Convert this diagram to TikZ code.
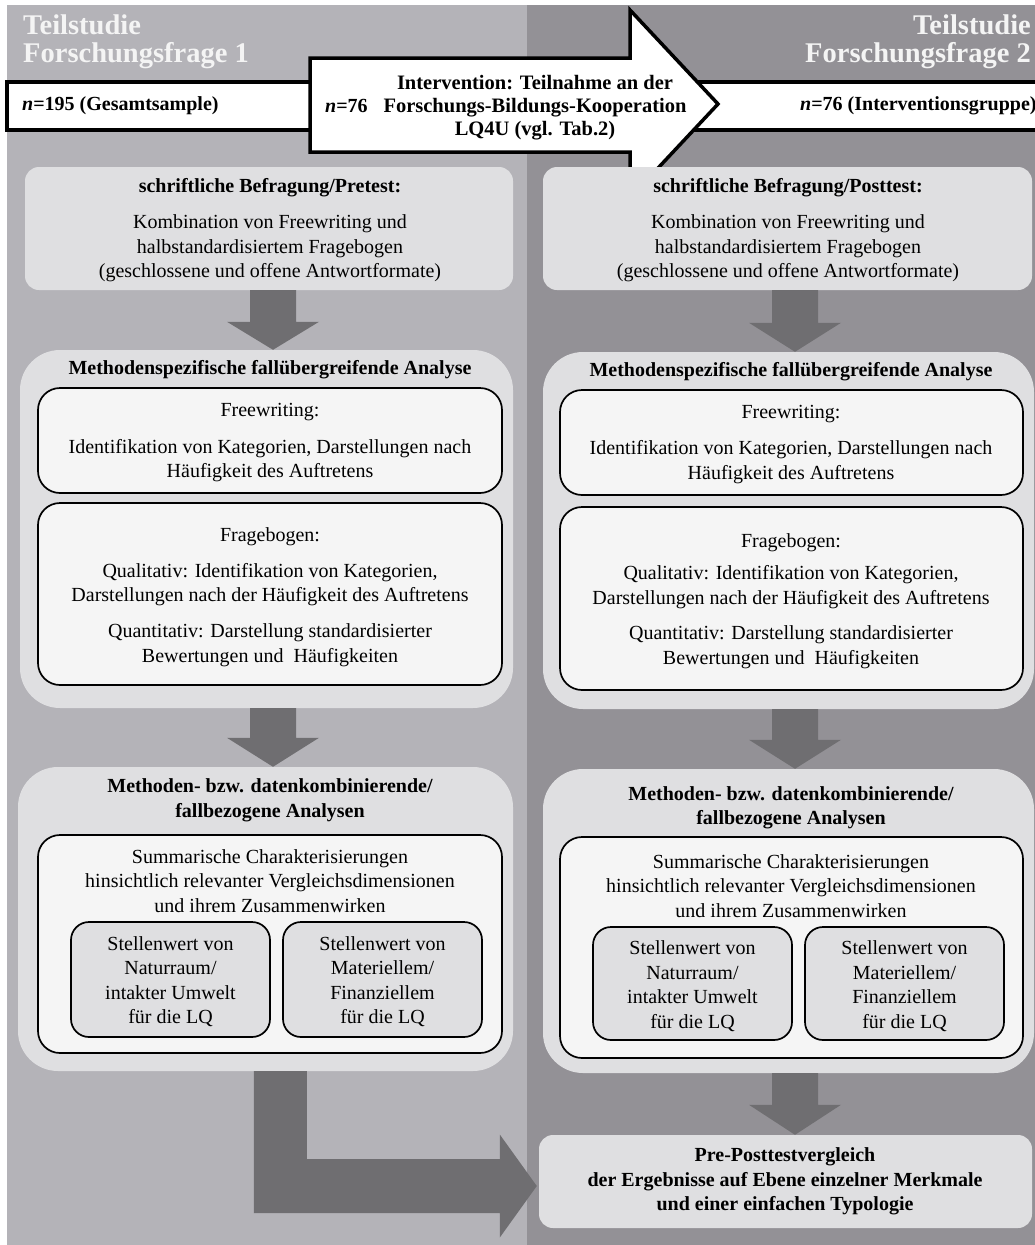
\documentclass[tikz,border=0pt]{standalone}
\usepackage{fontspec}
\setmainfont{Liberation Serif}
\usetikzlibrary{calc,fit}
\definecolor{panelL}{HTML}{B4B3B8}
\definecolor{panelR}{HTML}{939196}
\definecolor{lightc}{HTML}{DFDFE1}
\definecolor{whitec}{HTML}{F5F5F5}
\definecolor{arrowc}{HTML}{6F6E71}
\definecolor{titlec}{HTML}{F4F4F4}
\newcommand\dnarrow[4]{%
  \fill[arr] ($(#1.south -| #3)+(-23,0)$) -- ($(#1.south -| #3)+(23,0)$)
    -- ($(#2.north -| #3)+(23,-#4)$) -- ($(#2.north -| #3)+(46,-#4)$)
    -- (#2.north -| #3) -- ($(#2.north -| #3)+(-46,-#4)$)
    -- ($(#2.north -| #3)+(-23,-#4)$) -- cycle;}
\begin{document}
\begin{tikzpicture}[x=1pt,y=-1pt,
  lbox/.style={fill=lightc, rounded corners=14pt, inner sep=0pt},
  obox/.style={fill=lightc, rounded corners=40pt, inner sep=0pt},
  ibox/.style={fill=whitec, draw=black, line width=1.7pt, rounded corners=22pt, inner sep=0pt},
  sbox/.style={fill=lightc, draw=black, line width=1.7pt, rounded corners=18pt, inner sep=0pt},
  band/.style={fill=white, draw=black, line width=3.5pt, inner sep=0pt},
  arr/.style={fill=arrowc},
  txt/.style={font=\fontsize{20}{24.5}\selectfont, align=center, inner sep=0pt},
  btxt/.style={font=\fontsize{20}{24.5}\selectfont\bfseries, align=center, inner sep=0pt},
  ttl/.style={font=\fontsize{28.5}{28}\selectfont\bfseries, text=titlec, inner sep=0pt}]
\useasboundingbox (0,0) rectangle (1035,1245);
\fill[white] (0,0) rectangle (1035,1245);
% panels
\fill[panelL] (7,5) rectangle (527,1245);
\fill[panelR] (527,5) rectangle (1035,1245);
\node[ttl, anchor=north west, align=left] (tl) at (23,15) {Teilstudie\\Forschungsfrage 1};
\node[ttl, anchor=north east, align=right] (tr) at (1031,15) {Teilstudie\\Forschungsfrage 2};
% top band
\node[band, fit={(7,82) (315,130)}] (nL) {};
\node[band, fit={(640,82) (1045,130)}] (nR) {};
\draw[band] (310,58) -- (630,58) -- (630,10) -- (718,104) -- (630,198) -- (630,152) -- (310,152) -- cycle;
\node[btxt, anchor=west] (nLt) at (22,106) {\textit{n}=195 (Gesamtsample)};
\node[btxt, anchor=west] (ivn) at (325,106) {\textit{n}=76};
\node[btxt, font=\fontsize{20.5}{23}\selectfont\bfseries] (iv) at (535,108) {Intervention: Teilnahme an der\\Forschungs-Bildungs-Kooperation\\LQ4U (vgl. Tab.2)};
\node[btxt, anchor=west] (nRt) at (800,106) {\textit{n}=76 (Interventionsgruppe)};
% column anchors
\coordinate (cL) at (273,0);
\coordinate (cR) at (795,0);
% ---------- left column
\node[lbox, fit={(25,167) (513,290)}] (b1L) {};
\node[btxt] (t1L) at (270,188) {schriftliche Befragung/Pretest:};
\node[txt] (t1Lb) at (270,248.5) {Kombination von Freewriting und\\halbstandardisiertem Fragebogen\\(geschlossene und offene Antwortformate)};
\node[obox, fit={(20,350) (513,708)}] (b2L) {};
\node[btxt] (t2L) at (270,370) {Methodenspezifische fallübergreifende Analyse};
\node[ibox, fit={(38,388) (502,493)}] (fwL) {};
\node[txt] (fwLh) at (270,412) {Freewriting:};
\node[txt] (fwLt) at (270,460.5) {Identifikation von Kategorien, Darstellungen nach\\Häufigkeit des Auftretens};
\node[ibox, fit={(38,503) (502,685)}] (fbL) {};
\node[txt] (fbLh) at (270,537) {Fragebogen:};
\node[txt] (fbLq) at (270,584.5) {Qualitativ: Identifikation von Kategorien,\\Darstellungen nach der Häufigkeit des Auftretens};
\node[txt] (fbLn) at (270,645) {Quantitativ: Darstellung standardisierter\\Bewertungen und\ \ Häufigkeiten};
\node[obox, fit={(18,767) (513,1071)}] (b3L) {};
\node[btxt] (t3L) at (270,800.5) {Methoden- bzw. datenkombinierende/\\fallbezogene Analysen};
\node[ibox, fit={(38,835) (502,1053)}] (smL) {};
\node[txt] (smLt) at (270,881) {Summarische Charakterisierungen\\hinsichtlich relevanter Vergleichsdimensionen\\und ihrem Zusammenwirken};
\node[sbox, fit={(71,922) (270,1037)}] (s1L) {};
\node[txt] (s1Lt) at (170.5,981.5) {Stellenwert von\\Naturraum/\\intakter Umwelt\\für die LQ};
\node[sbox, fit={(283,922) (482,1037)}] (s2L) {};
\node[txt] (s2Lt) at (382.5,981.5) {Stellenwert von\\Materiellem/\\Finanziellem\\für die LQ};
% ---------- right column
\node[lbox, fit={(543,167) (1032,290)}] (b1R) {};
\node[btxt] (t1R) at (788,188) {schriftliche Befragung/Posttest:};
\node[txt] (t1Rb) at (788,248.5) {Kombination von Freewriting und\\halbstandardisiertem Fragebogen\\(geschlossene und offene Antwortformate)};
\node[obox, fit={(543,352) (1034,709)}] (b2R) {};
\node[btxt] (t2R) at (791,372) {Methodenspezifische fallübergreifende Analyse};
\node[ibox, fit={(560,390) (1023,495)}] (fwR) {};
\node[txt] (fwRh) at (791,414) {Freewriting:};
\node[txt] (fwRt) at (791,462) {Identifikation von Kategorien, Darstellungen nach\\Häufigkeit des Auftretens};
\node[ibox, fit={(560,507) (1023,690)}] (fbR) {};
\node[txt] (fbRh) at (791,543) {Fragebogen:};
\node[txt] (fbRq) at (791,587) {Qualitativ: Identifikation von Kategorien,\\Darstellungen nach der Häufigkeit des Auftretens};
\node[txt] (fbRn) at (791,647) {Quantitativ: Darstellung standardisierter\\Bewertungen und\ \ Häufigkeiten};
\node[obox, fit={(543,769) (1034,1073)}] (b3R) {};
\node[btxt] (t3R) at (791,808) {Methoden- bzw. datenkombinierende/\\fallbezogene Analysen};
\node[ibox, fit={(560,837) (1023,1058)}] (smR) {};
\node[txt] (smRt) at (791,886) {Summarische Charakterisierungen\\hinsichtlich relevanter Vergleichsdimensionen\\und ihrem Zusammenwirken};
\node[sbox, fit={(593,927) (792,1040)}] (s1R) {};
\node[txt] (s1Rt) at (692.5,986) {Stellenwert von\\Naturraum/\\intakter Umwelt\\für die LQ};
\node[sbox, fit={(805,927) (1004,1040)}] (s2R) {};
\node[txt] (s2Rt) at (904.5,986) {Stellenwert von\\Materiellem/\\Finanziellem\\für die LQ};
\node[lbox, fit={(539,1135) (1032,1228)}] (b4R) {};
\node[btxt] (t4R) at (785,1181.5) {Pre-Posttestvergleich\\der Ergebnisse auf Ebene einzelner Merkmale\\und einer einfachen Typologie};
% ---------- block arrows
\dnarrow{b1L}{b2L}{cL}{28}
\dnarrow{b2L}{b3L}{cL}{29}
\dnarrow{b1R}{b2R}{cR}{29}
\dnarrow{b2R}{b3R}{cR}{29}
\dnarrow{b3R}{b4R}{cR}{30}
\coordinate (Ltip) at ($(b4R.west)+(-2,4.5)$);
\fill[arr] ($(b3L.south -| Ltip)+(-283,0)$) -- ($(b3L.south -| Ltip)+(-230,0)$)
  -- ($(Ltip)+(-230,-27)$) -- ($(Ltip)+(-37,-27)$) -- ($(Ltip)+(-37,-51.5)$)
  -- (Ltip) -- ($(Ltip)+(-37,51.5)$) -- ($(Ltip)+(-37,27)$)
  -- ($(Ltip)+(-283,27)$) -- cycle;
\end{tikzpicture}
\end{document}
